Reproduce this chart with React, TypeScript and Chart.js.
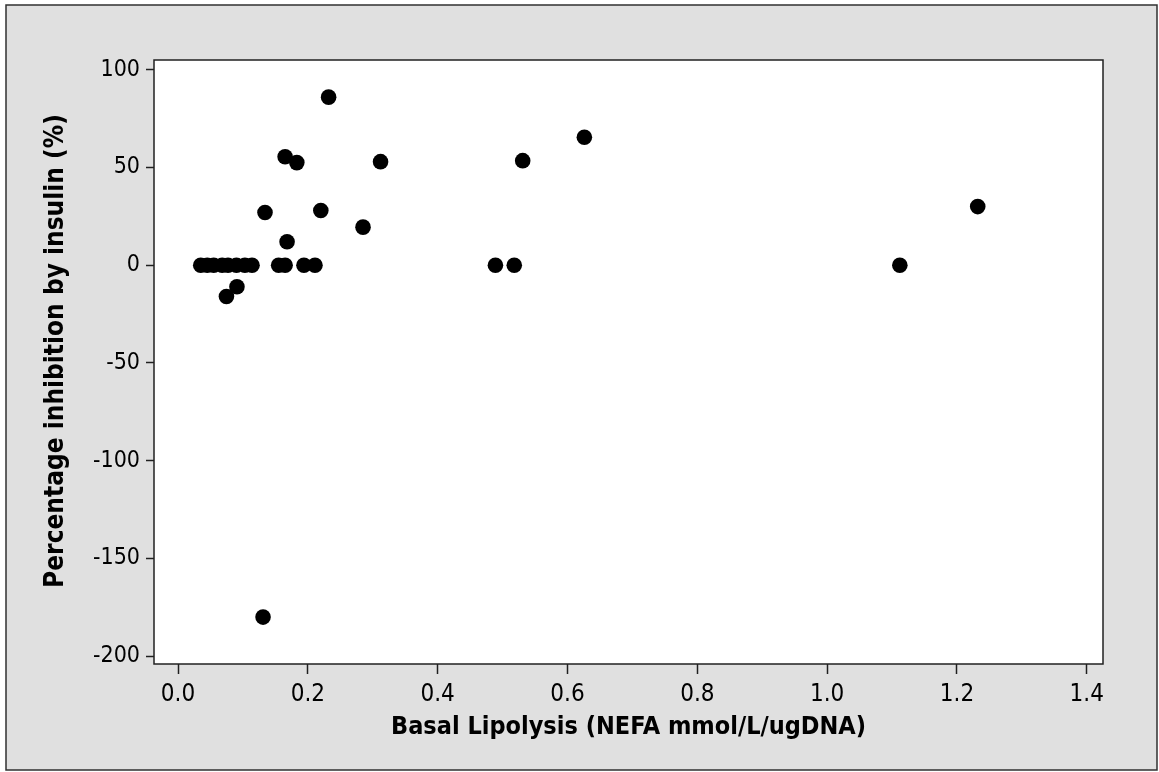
import React, { useEffect, useRef } from "react";
import { Chart, registerables } from "chart.js";

Chart.register(...registerables);

// Basal lipolysis (NEFA mmol/L/ugDNA)
const basalLipolysis = [
  0.035, 0.045, 0.055, 0.068, 0.077, 0.09, 0.103, 0.114,
  0.155, 0.165, 0.194, 0.211,
  0.0746, 0.0908,
  0.134, 0.168, 0.165, 0.183, 0.22, 0.285, 0.312, 0.232, 0.131,
  0.489, 0.518, 0.531, 0.626,
  1.112, 1.232,
];
// Percentage inhibition by insulin (%)
const inhibition = [
  0, 0, 0, 0, 0, 0, 0, 0,
  0, 0, 0, 0,
  -16, -11,
  27, 12, 55.5, 52.5, 28, 19.5, 53, 86, -180,
  0, 0, 53.5, 65.5,
  0, 30,
];

const xTicks = [0, 0.2, 0.4, 0.6, 0.8, 1.0, 1.2, 1.4];
const yTicks = [-200, -150, -100, -50, 0, 50, 100];

const xTitle = "Basal Lipolysis (NEFA mmol/L/ugDNA)";
const yTitle = "Percentage inhibition by insulin (%)";

const W = 1159;
const H = 772;
const FONT = "'DejaVu Sans Condensed', 'DejaVu Sans'";

export default function App() {
  const ref = useRef<HTMLCanvasElement | null>(null);

  useEffect(() => {
    if (!ref.current) return;
    const frame = {
      id: "frame",
      beforeDraw(chart: any) {
        const ctx = chart.ctx;
        ctx.save();
        ctx.fillStyle = "#e0e0e0";
        ctx.fillRect(6, 5, 1151, 765);
        ctx.strokeStyle = "#303030";
        ctx.lineWidth = 1.5;
        ctx.strokeRect(6, 5, 1151, 765);
        const a = chart.chartArea;
        ctx.fillStyle = "#ffffff";
        ctx.fillRect(a.left, a.top, a.right - a.left, a.bottom - a.top);
        ctx.restore();
      },
      afterDraw(chart: any) {
        const ctx = chart.ctx;
        const a = chart.chartArea;
        ctx.save();
        ctx.strokeStyle = "#202020";
        ctx.lineWidth = 1.5;
        ctx.strokeRect(a.left, a.top, a.right - a.left, a.bottom - a.top);
        // y-axis title
        ctx.translate(56, 351);
        ctx.rotate(-Math.PI / 2);
        ctx.fillStyle = "#000000";
        ctx.font = "bold 26px " + FONT;
        ctx.textAlign = "center";
        ctx.textBaseline = "middle";
        ctx.fillText(yTitle, 0, 0);
        ctx.restore();
      },
    };

    const chart = new Chart(ref.current, {
      type: "scatter",
      data: {
        datasets: [
          {
            data: basalLipolysis.map((x, i) => ({ x, y: inhibition[i] })),
            backgroundColor: "#000000",
            borderWidth: 0,
            pointRadius: 7.8,
            pointHoverRadius: 7.8,
          },
        ],
      },
      options: {
        responsive: false,
        animation: false,
        events: [],
        layout: { padding: { top: 60, right: 56, left: 0, bottom: 0 } },
        plugins: {
          legend: { display: false },
          tooltip: { enabled: false },
        },
        scales: {
          x: {
            type: "linear",
            min: -0.037,
            max: 1.425,
            afterFit(scale: any) {
              scale.height = 108;
            },
            afterBuildTicks(scale: any) {
              scale.ticks = xTicks.map((v) => ({ value: v }));
            },
            grid: {
              drawOnChartArea: false,
              drawTicks: true,
              tickLength: 10,
              tickWidth: 1.5,
              tickColor: "#202020",
            },
            border: { display: false },
            ticks: {
              autoSkip: false,
              maxRotation: 0,
              padding: 6,
              color: "#000000",
              font: { family: FONT, size: 24 },
              callback: (v: any) => Number(v).toFixed(1),
            },
            title: {
              display: true,
              text: xTitle,
              color: "#000000",
              font: { family: FONT, size: 25, weight: "bold" },
              padding: { top: 0, bottom: 30 },
            },
          },
          y: {
            type: "linear",
            min: -204,
            max: 105,
            afterFit(scale: any) {
              scale.width = 154;
            },
            afterBuildTicks(scale: any) {
              scale.ticks = yTicks.map((v) => ({ value: v }));
            },
            grid: {
              drawOnChartArea: false,
              drawTicks: true,
              tickLength: 8,
              tickWidth: 1.5,
              tickColor: "#202020",
            },
            border: { display: false },
            ticks: {
              autoSkip: false,
              padding: 6,
              color: "#000000",
              font: { family: FONT, size: 23 },
              callback: (v: any) => String(v),
            },
            title: { display: false },
          },
        },
      },
      plugins: [frame],
    });
    return () => chart.destroy();
  }, []);

  return (
    <div style={{ position: "absolute", left: 0, top: 0, width: W, height: H }}>
      <canvas ref={ref} width={W} height={H} style={{ width: W, height: H, display: "block" }} />
    </div>
  );
}
